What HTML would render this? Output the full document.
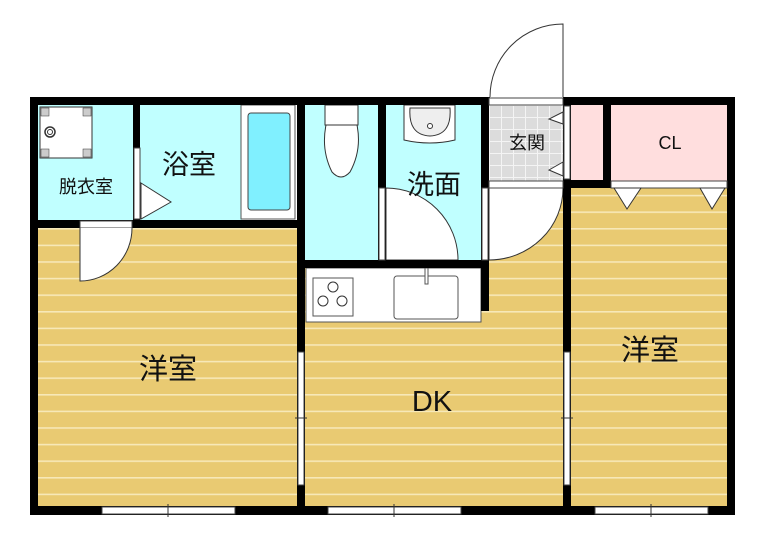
<!DOCTYPE html>
<html><head><meta charset="utf-8"><style>
html,body{margin:0;padding:0;background:#fff;}
svg{display:block;font-family:"Liberation Sans","Noto Sans CJK JP",sans-serif;}
</style></head><body>
<svg width="766" height="543" viewBox="0 0 766 543" xmlns="http://www.w3.org/2000/svg">
<defs>
<pattern id="fl" x="0" y="228" width="10" height="16.6" patternUnits="userSpaceOnUse">
<rect width="10" height="16.6" fill="#e9ca72"/>
<rect y="0" width="10" height="1.6" fill="#f7e8b8"/>
</pattern>
<pattern id="tile" x="489" y="105" width="12" height="12" patternUnits="userSpaceOnUse">
<rect width="12" height="12" fill="#dcdcdc"/>
<rect width="12" height="1" fill="#f4f4f4"/><rect width="1" height="12" fill="#f4f4f4"/>
</pattern>
</defs>
<!-- floors -->
<rect x="38" y="228" width="260" height="280" fill="url(#fl)"/>
<rect x="305" y="260" width="260" height="248" fill="url(#fl)"/>
<rect x="489" y="188" width="76" height="80" fill="url(#fl)"/>
<rect x="571" y="188" width="158" height="320" fill="url(#fl)"/>
<!-- cyan rooms -->
<rect x="38" y="105" width="96" height="116" fill="#c0ffff"/>
<rect x="140" y="105" width="102" height="116" fill="#c0ffff"/>
<rect x="305" y="105" width="74" height="156" fill="#c0ffff"/>
<rect x="386" y="105" width="96" height="156" fill="#c0ffff"/>
<!-- genkan -->
<rect x="489" y="105" width="74" height="76" fill="url(#tile)"/>
<!-- pink -->
<rect x="571" y="105" width="33" height="76" fill="#ffdede"/>
<rect x="611" y="105" width="117" height="76" fill="#ffdede"/>
<!-- washer -->
<rect x="40" y="107" width="52" height="51" fill="#fff" stroke="#333" stroke-width="1"/>
<rect x="41" y="108" width="8" height="8" fill="#ccc" stroke="#333" stroke-width=".5"/>
<rect x="83" y="108" width="8" height="8" fill="#ccc" stroke="#333" stroke-width=".5"/>
<rect x="41" y="149" width="8" height="8" fill="#ccc" stroke="#333" stroke-width=".5"/>
<rect x="83" y="149" width="8" height="8" fill="#ccc" stroke="#333" stroke-width=".5"/>
<circle cx="50" cy="132" r="5" fill="#fff" stroke="#333" stroke-width="1.5"/><circle cx="50" cy="132" r="2.5" fill="none" stroke="#333"/>
<!-- bathtub -->
<rect x="241" y="105" width="54" height="114" fill="#fff" stroke="#555" stroke-width="1"/>
<rect x="248" y="113" width="42" height="97" rx="3" fill="#80f0ff" stroke="#444" stroke-width="1"/>
<!-- bath door triangle -->
<polygon points="141,183 171,202 141,219" fill="#fff" stroke="#333" stroke-width="1"/>
<!-- toilet -->
<rect x="325" y="105" width="33" height="20" fill="#fff" stroke="#333"/>
<path d="M326,125 L357,125 Q362,150 350,172 Q341,182 332,172 Q321,150 326,125 Z" fill="#fff" stroke="#333"/>
<!-- wash sink -->
<path d="M404,105 L455,105 L455,140 Q430,146 404,140 Z" fill="#fff" stroke="#333"/>
<path d="M410,108 L450,108 Q452,135 430,136 Q408,135 410,108 Z" fill="#eee" stroke="#333"/>
<circle cx="430" cy="126" r="2.5" fill="#fff" stroke="#333"/>
<!-- washroom door -->
<path d="M386,188 A72,72 0 0 1 458,260 L386,260 Z" fill="#fff" stroke="#333"/>
<!-- kitchen -->
<rect x="306" y="268" width="175" height="54" fill="#fff" stroke="#555"/>
<rect x="313" y="278" width="40" height="38" fill="#fff" stroke="#555"/>
<circle cx="333" cy="287" r="5" fill="#fff" stroke="#333"/>
<circle cx="323" cy="301" r="5" fill="#fff" stroke="#333"/>
<circle cx="342" cy="301" r="5" fill="#fff" stroke="#333"/>
<rect x="394" y="276" width="64" height="43" rx="3" fill="#fff" stroke="#555"/>
<rect x="425" y="268" width="3" height="16" fill="#fff" stroke="#555"/>
<!-- genkan inner door -->
<path d="M489,188 L563,188 A74,72 0 0 1 489,260 Z" fill="#fff" stroke="#333"/>
<!-- entrance door -->
<path d="M490,97 A73,73 0 0 1 563,24 L563,97" fill="#fff" stroke="#333"/>
<!-- walls -->
<g fill="#000">
<rect x="30" y="97" width="460" height="8"/>
<rect x="563" y="97" width="172" height="8"/>
<rect x="30" y="97" width="8" height="418"/>
<rect x="727" y="97" width="8" height="418"/>
<rect x="30" y="506" width="705" height="9"/>
<rect x="133" y="97" width="7" height="131"/>
<rect x="38" y="220" width="260" height="8"/>
<rect x="297" y="97" width="8" height="418"/>
<rect x="378" y="97" width="8" height="164"/>
<rect x="305" y="260" width="184" height="8"/>
<rect x="481" y="97" width="8" height="214"/>
<rect x="563" y="97" width="8" height="418"/>
<rect x="563" y="180" width="48" height="8"/>
<rect x="603" y="97" width="8" height="91"/>
</g>
<!-- door openings white -->
<g fill="#fff" stroke="#444" stroke-width="1">
<rect x="134" y="148" width="6" height="71"/>
<rect x="80" y="221" width="52" height="7"/>
<rect x="379" y="188" width="6" height="72"/>
<rect x="482" y="188" width="6" height="72"/>
<rect x="489" y="98" width="74" height="7"/>
<rect x="489" y="181" width="74" height="7"/>
<rect x="564" y="106" width="6" height="73"/>
<rect x="611" y="181" width="116" height="7"/>
<rect x="298" y="352" width="6" height="133"/>
<rect x="564" y="352" width="6" height="133"/>
<rect x="102" y="507" width="133" height="7"/>
<rect x="328" y="507" width="133" height="7"/>
<rect x="595" y="507" width="113" height="7"/>
</g>
<path d="M80,228 L80,281 A52,53 0 0 0 132,228" fill="#fff" stroke="#333"/>
<g stroke="#333" stroke-width="1">
<line x1="168" y1="504" x2="168" y2="517"/><line x1="394" y1="504" x2="394" y2="517"/><line x1="651" y1="504" x2="651" y2="517"/>
<line x1="295" y1="418" x2="307" y2="418"/><line x1="561" y1="418" x2="573" y2="418"/>
</g>
<polygon points="563,112 549,119 563,124" fill="#fff" stroke="#333"/>
<polygon points="563,162 549,170 563,176" fill="#fff" stroke="#333"/>
<polygon points="614,188 627,209 641,188" fill="#fff" stroke="#333"/>
<polygon points="700,188 712,209 725,188" fill="#fff" stroke="#333"/>
<!-- labels -->
<g fill="#111">
<text x="86" y="193" font-size="18" text-anchor="middle">脱衣室</text>
<text x="189" y="174" font-size="27" text-anchor="middle">浴室</text>
<text x="434" y="194" font-size="27" text-anchor="middle">洗面</text>
<text x="527" y="149" font-size="18" text-anchor="middle">玄関</text>
<text x="670" y="149" font-size="18" text-anchor="middle">CL</text>
<text x="168" y="379" font-size="29" text-anchor="middle">洋室</text>
<text x="432" y="411" font-size="29" text-anchor="middle">DK</text>
<text x="650" y="360" font-size="29" text-anchor="middle">洋室</text>
</g>
</svg>
</body></html>
